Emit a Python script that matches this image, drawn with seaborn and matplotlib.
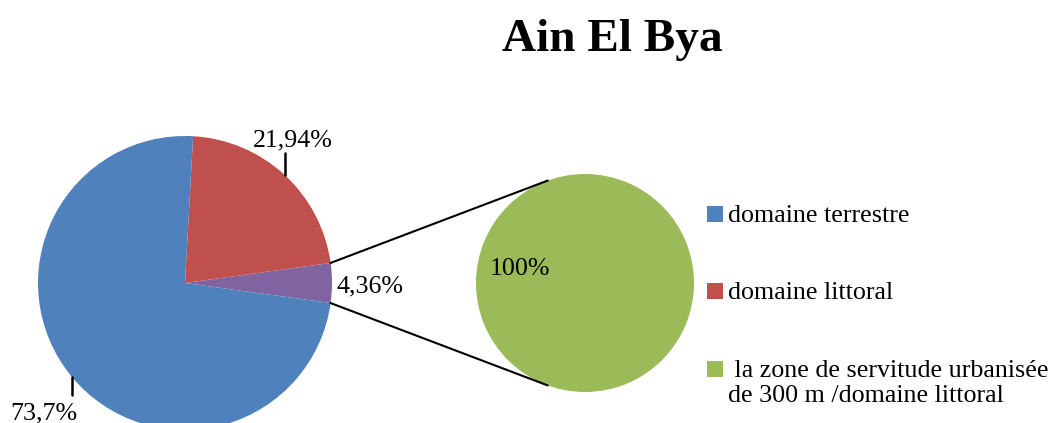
import numpy as np
import matplotlib
matplotlib.use("Agg")
import matplotlib.pyplot as plt
import seaborn as sns

# ---- data ----
title = "Ain El Bya"
main_labels = ["la zone de servitude urbanisée de 300 m /domaine littoral",
               "domaine littoral", "domaine terrestre"]
main_values = [4.36, 21.94, 73.7]
main_texts = ["4,36%", "21,94%", "73,7%"]
sub_values = [100]
sub_texts = ["100%"]
legend_labels = ["domaine terrestre", "domaine littoral",
                 " la zone de servitude urbanisée\nde 300 m /domaine littoral"]
colors = {"domaine terrestre": "#4F81BD", "domaine littoral": "#C0504D",
          "zone": "#8064A2", "sub": "#9BBB59"}

sns.set_theme(style="white")
plt.rcParams["font.family"] = ["Liberation Serif", "DejaVu Serif"]
plt.rcParams["text.color"] = "black"

W, H = 1057, 423
fig = plt.figure(figsize=(W / 100, H / 100), dpi=100)
ax = fig.add_axes([0, 0, 1, 1])

def Y(y):
    return H - y

# main pie
c1 = (185, Y(283)); r1 = 147
half = main_values[0] / 100 * 360 / 2
ax.pie(main_values, colors=[colors["zone"], colors["domaine littoral"], colors["domaine terrestre"]],
       startangle=-half, counterclock=True, center=c1, radius=r1,
       wedgeprops=dict(linewidth=0), frame=True)

# sub pie
c2 = (585, Y(283)); r2 = 109
ax.pie(sub_values, colors=[colors["sub"]], startangle=90, center=c2, radius=r2,
       wedgeprops=dict(linewidth=0), frame=True)
ax.set_xlim(0, W)
ax.set_ylim(0, H)
ax.set_aspect("auto")
ax.axis("off")

# connector lines
for sgn in (1, -1):
    a1 = np.deg2rad(sgn * half)
    p1 = (c1[0] + r1 * np.cos(a1), c1[1] + r1 * np.sin(a1))
    a2 = np.deg2rad(sgn * 110)
    p2 = (c2[0] + r2 * np.cos(a2), c2[1] + r2 * np.sin(a2))
    ax.plot([p1[0], p2[0]], [p1[1], p2[1]], color="black", lw=1.5)

fs = 18.7
# data labels
ax.text(370, Y(286), main_texts[0], fontsize=fs, ha="center", va="center")
ax.text(293, Y(140), main_texts[1], fontsize=fs, ha="center", va="center")
ax.plot([285, 285], [Y(153), Y(175)], color="black", lw=1.8)
ax.text(44, Y(413), main_texts[2], fontsize=fs, ha="center", va="center")
ax.plot([72, 72], [Y(377), Y(395)], color="black", lw=1.8)
ax.text(520, Y(269), sub_texts[0], fontsize=fs, ha="center", va="center")

# title
ax.text(612, Y(40), title, fontsize=34, fontweight="bold", ha="center", va="center")

# legend
leg_colors = [colors["domaine terrestre"], colors["domaine littoral"], colors["sub"]]
leg_y = [214, 291, 369]
for lab, col, yy in zip(legend_labels, leg_colors, leg_y):
    ax.scatter([715], [Y(yy)], marker="s", s=130, color=col, linewidths=0)
    ax.text(728, Y(yy) + 9, lab, fontsize=fs, ha="left", va="top", linespacing=1.2)

fig.savefig("out.png", dpi=100)
